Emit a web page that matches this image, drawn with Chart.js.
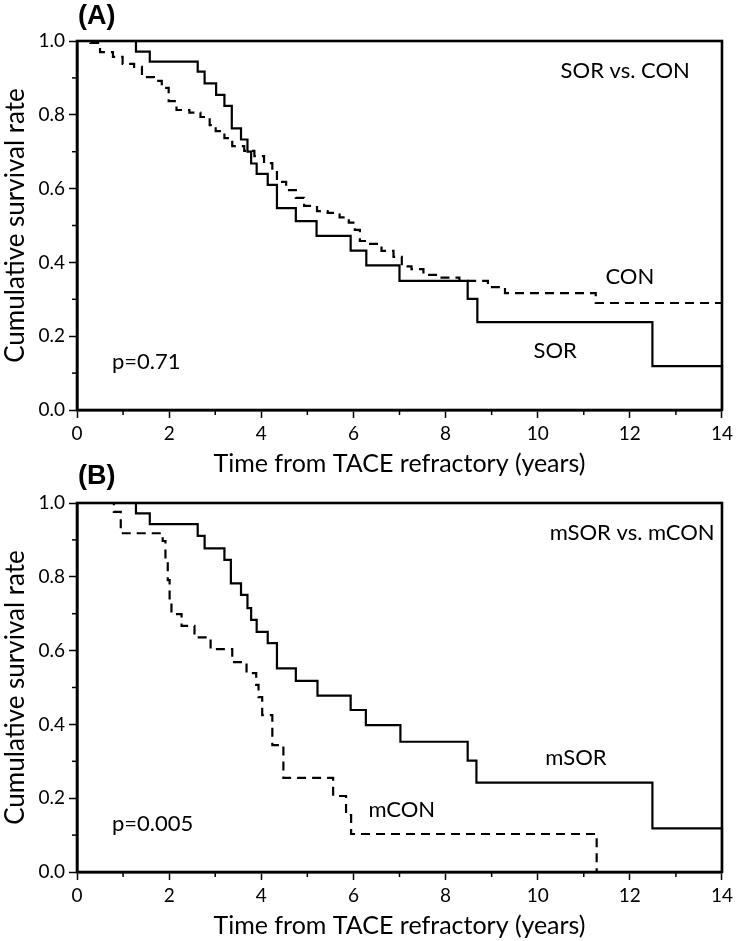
<!DOCTYPE html>
<html>
<head>
<meta charset="utf-8">
<script src="https://cdn.jsdelivr.net/npm/chart.js@4.4.1/dist/chart.umd.min.js"></script>
<style>
    html, body { margin: 0; padding: 0; background: #fff; }
    #wrap { position: relative; width: 737px; height: 941px; }
    canvas { position: absolute; left: 0; }
    #chartA { top: 0; }
    #chartB { top: 462px; }
</style>
</head>
<body>
<div id="wrap">
    <canvas id="chartA" width="737" height="480"></canvas>
    <canvas id="chartB" width="737" height="479"></canvas>
</div>
<script>
// (A) SOR vs CON - time (years) where survival drops, survival after the drop
const sorTimes = [0, 1.28, 1.58, 2.62, 2.77, 3.02, 3.20, 3.36, 3.56, 3.70, 3.78, 3.90, 4.14, 4.34, 4.75, 5.20, 5.94, 6.28, 7.00, 8.48, 8.69, 12.49, 14];
const sorSurv = [1, 0.971, 0.944, 0.917, 0.885, 0.854, 0.824, 0.763, 0.733, 0.700, 0.668, 0.640, 0.610, 0.547, 0.512, 0.472, 0.432, 0.392, 0.350, 0.301, 0.238, 0.119, 0];

const conTimes = [0, 0.29, 0.50, 0.78, 0.99, 1.24, 1.41, 1.67, 1.84, 1.99, 2.16, 2.44, 2.68, 2.88, 3.01, 3.20, 3.37, 3.63, 3.85, 4.06, 4.24, 4.34, 4.54, 4.75, 4.93, 5.21, 5.44, 5.70, 5.90, 6.03, 6.14, 6.33, 6.61, 6.87, 7.05, 7.26, 7.52, 7.84, 8.30, 8.92, 9.29, 11.26, 14];
const conSurv = [1, 0.995, 0.970, 0.957, 0.938, 0.930, 0.902, 0.892, 0.873, 0.837, 0.813, 0.806, 0.794, 0.772, 0.756, 0.737, 0.715, 0.702, 0.688, 0.669, 0.648, 0.618, 0.596, 0.575, 0.553, 0.539, 0.534, 0.522, 0.508, 0.488, 0.458, 0.450, 0.431, 0.415, 0.389, 0.382, 0.366, 0.359, 0.350, 0.333, 0.317, 0.290, 0.290];

// (B) mSOR vs mCON
const msorTimes = [0, 1.28, 1.58, 2.62, 2.77, 3.20, 3.34, 3.56, 3.70, 3.78, 3.90, 4.14, 4.34, 4.75, 5.22, 5.94, 6.27, 7.02, 8.48, 8.67, 12.49, 14];
const msorSurv = [1, 0.972, 0.943, 0.911, 0.877, 0.846, 0.782, 0.751, 0.715, 0.683, 0.651, 0.620, 0.552, 0.518, 0.478, 0.439, 0.398, 0.353, 0.302, 0.242, 0.118, 0];

const mconTimes = [0, 0.80, 0.95, 1.86, 1.92, 1.97, 2.01, 2.05, 2.27, 2.55, 2.90, 3.37, 3.68, 3.89, 3.94, 4.02, 4.24, 4.48, 5.56, 5.84, 5.95, 11.28];
const mconSurv = [1, 0.976, 0.918, 0.897, 0.846, 0.791, 0.737, 0.699, 0.667, 0.636, 0.604, 0.569, 0.539, 0.507, 0.474, 0.425, 0.344, 0.255, 0.206, 0.154, 0.103, 0];

const xMinorTicks = [1, 3, 5, 7, 9, 11, 13];
const yMinorTicks = [0.1, 0.3, 0.5, 0.7, 0.9];

const FONT = 'Lato, "Open Sans", sans-serif';

function toPoints(times, surv) {
    return times.map((t, i) => ({ x: t, y: surv[i] }));
}

// frame, minor ticks, panel tag and in-plot notes
const framePlugin = {
    id: 'frame',
    afterDraw(chart, args, opts) {
        const { ctx, chartArea: a, scales: { x, y } } = chart;
        ctx.save();
        ctx.strokeStyle = '#000';
        ctx.lineWidth = 1.5;
        yMinorTicks.forEach(v => {
            const py = y.getPixelForValue(v);
            ctx.beginPath(); ctx.moveTo(a.left - 5, py); ctx.lineTo(a.left, py); ctx.stroke();
        });
        xMinorTicks.forEach(v => {
            const px = x.getPixelForValue(v);
            ctx.beginPath(); ctx.moveTo(px, a.bottom); ctx.lineTo(px, a.bottom + 5); ctx.stroke();
        });
        ctx.lineWidth = 2.6;
        ctx.strokeRect(a.left, a.top, a.right - a.left, a.bottom - a.top);

        ctx.fillStyle = '#000';
        ctx.textBaseline = 'middle';
        ctx.font = '22px ' + FONT;
        opts.notes.forEach(n => {
            ctx.textAlign = n.align || 'center';
            ctx.fillText(n.text, x.getPixelForValue(n.x), y.getPixelForValue(n.y));
        });
        ctx.font = 'bold 27px "Liberation Sans", Arial, sans-serif';
        ctx.textAlign = 'left';
        ctx.fillText(opts.tag, a.left + 1, opts.tagY);
        ctx.restore();
    }
};

function makePanel(canvasId, solid, dashed, tag, tagY, notes, height, titlePad) {
    return new Chart(document.getElementById(canvasId), {
        type: 'line',
        data: {
            datasets: [{
                data: solid,
                borderColor: '#000',
                borderWidth: 2.2,
                stepped: 'before',
                pointRadius: 0,
                clip: false
            }, {
                data: dashed,
                borderColor: '#000',
                borderWidth: 2.2,
                borderDash: [9, 6],
                stepped: 'before',
                pointRadius: 0,
                clip: false
            }]
        },
        options: {
            responsive: false,
            animation: false,
            layout: { padding: { top: 41, right: 13, left: 0, bottom: 0 } },
            plugins: {
                legend: { display: false },
                tooltip: { enabled: false },
                frame: { tag: tag, tagY: tagY, notes: notes }
            },
            scales: {
                x: {
                    type: 'linear',
                    min: 0, max: 14,
                    afterFit: s => { s.height = height - 410; },
                    ticks: { stepSize: 2, color: '#000', padding: 4, maxRotation: 0, font: { family: FONT, size: 19 } },
                    grid: { drawOnChartArea: false, drawTicks: true, tickLength: 8, tickWidth: 1.5, tickColor: '#000' },
                    border: { display: true, color: '#000', width: 2.6 },
                    title: {
                        display: true,
                        text: 'Time from TACE refractory (years)',
                        color: '#000',
                        font: { family: FONT, size: 25 },
                        padding: { top: 0, bottom: titlePad }
                    }
                },
                y: {
                    min: 0, max: 1,
                    afterFit: s => { s.width = 77; },
                    ticks: {
                        stepSize: 0.2, color: '#000', padding: 4,
                        font: { family: FONT, size: 19 },
                        callback: v => v.toFixed(1)
                    },
                    grid: { drawOnChartArea: false, drawTicks: true, tickLength: 8, tickWidth: 1.5, tickColor: '#000' },
                    border: { display: true, color: '#000', width: 2.6 },
                    title: {
                        display: true,
                        text: 'Cumulative survival rate',
                        color: '#000',
                        font: { family: FONT, size: 26 },
                        padding: { top: 0, bottom: 0 }
                    }
                }
            }
        },
        plugins: [framePlugin]
    });
}

makePanel('chartA', toPoints(sorTimes, sorSurv), toPoints(conTimes, conSurv), '(A)', 17, [
    { text: 'SOR vs. CON', x: 11.9, y: 0.919 },
    { text: 'CON', x: 12.0, y: 0.362 },
    { text: 'SOR', x: 10.38, y: 0.159 },
    { text: 'p=0.71', x: 0.76, y: 0.13, align: 'left' }
], 480, 1);

makePanel('chartB', toPoints(msorTimes, msorSurv), toPoints(mconTimes, mconSurv), '(B)', 15, [
    { text: 'mSOR vs. mCON', x: 12.05, y: 0.919 },
    { text: 'mSOR', x: 10.83, y: 0.309 },
    { text: 'mCON', x: 7.05, y: 0.167 },
    { text: 'p=0.005', x: 0.76, y: 0.13, align: 'left' }
], 479, 0);
</script>
</body>
</html>
